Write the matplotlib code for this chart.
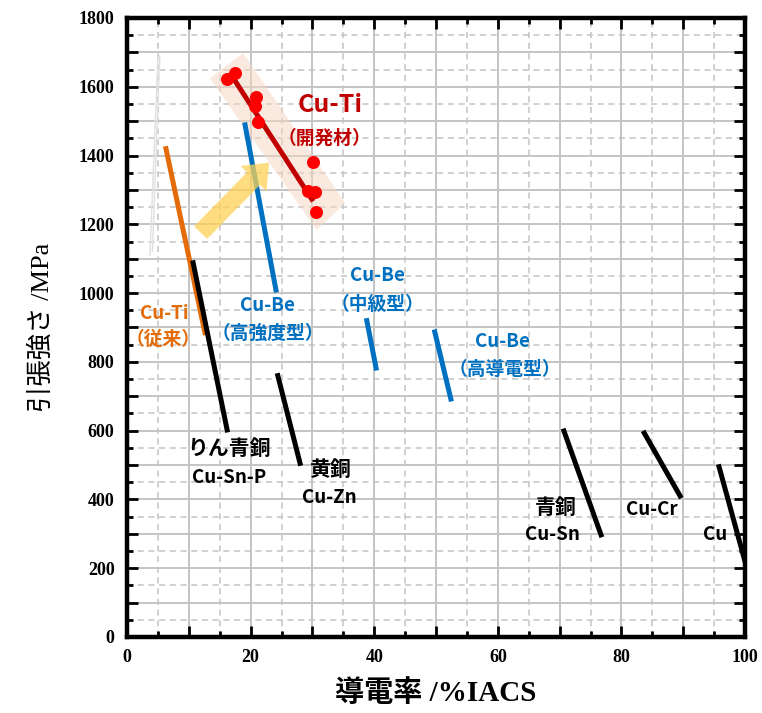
import numpy as np
import matplotlib.pyplot as plt
from matplotlib.ticker import MultipleLocator, FuncFormatter

plt.rcParams['font.family'] = ['Noto Sans CJK JP', 'DejaVu Sans']

# line segments: (conductivity %IACS, tensile strength MPa)
cuti_old_x = [6.3, 12.6]
cuti_old_y = [1420, 885]
cusnp_x = [10.7, 16.2]
cusnp_y = [1088, 602]
cuzn_x = [24.4, 28.0]
cuzn_y = [760, 505]
cube_hs_x = [19.1, 24.1]
cube_hs_y = [1489, 1009]
cube_mid_x = [38.8, 40.3]
cube_mid_y = [920, 782]
cube_hc_x = [49.8, 52.4]
cube_hc_y = [887, 692]
cusn_x = [70.7, 76.7]
cusn_y = [599, 297]
cucr_x = [83.7, 89.5]
cucr_y = [593, 410]
cu_x = [95.8, 100.3]
cu_y = [495, 200]
faint_x = [[5.0, 3.7], [5.3, 4.1]]
faint_y = [[1685, 1110], [1690, 1120]]

# developed Cu-Ti
new_pts_x = [16.2, 17.5, 20.9, 20.7, 21.2, 30.1, 29.3, 30.4, 30.6]
new_pts_y = [1622, 1641, 1570, 1544, 1498, 1381, 1297, 1295, 1236]
new_line_x = [17.2, 29.9]
new_line_y = [1625, 1273]
band_x = [13.4, 18.8, 35.3, 30.7]
band_y = [1625, 1698, 1262, 1183]

red = '#c00000'
orange = '#e36c09'
blue = '#0070c0'

fig = plt.figure(figsize=(7.62, 7.13), dpi=100)
ax = fig.add_axes([0.1667, 0.1066, 0.811, 0.8682])

ax.set_xlim(0, 100)
ax.set_ylim(0, 1800)

# grid
ax.xaxis.set_major_locator(MultipleLocator(10))
ax.xaxis.set_minor_locator(MultipleLocator(5))
ax.yaxis.set_major_locator(MultipleLocator(100))
ax.yaxis.set_minor_locator(MultipleLocator(50))
ax.grid(which='major', color='#c4c4c4', lw=1.4, ls='-', zorder=0)
ax.grid(which='minor', color='#c4c4c4', lw=1.1, ls=(0, (4, 3)), zorder=0)
ax.set_axisbelow(True)

ax.xaxis.set_major_formatter(FuncFormatter(lambda v, p: '%d' % v if v % 20 == 0 else ''))
ax.yaxis.set_major_formatter(FuncFormatter(lambda v, p: '%d' % v if v % 200 == 0 else ''))
ax.tick_params(which='both', direction='in', top=True, right=True, width=2, color='k')
ax.tick_params(which='major', length=8, pad=9)
ax.tick_params(which='minor', length=4)
for lab in ax.get_xticklabels() + ax.get_yticklabels():
    lab.set_family('Liberation Serif')
    lab.set_fontweight('bold')
    lab.set_fontsize(13)
for s in ax.spines.values():
    s.set_linewidth(3.2)

ax.set_xlabel('導電率 /%IACS', family=['Liberation Serif', 'Noto Sans CJK JP'],
              fontweight='bold', fontsize=21, labelpad=9)
ax.set_ylabel('引張強さ /MPa', family=['Liberation Serif', 'Noto Sans CJK JP'],
              fontweight='normal', fontsize=19, labelpad=18)

lw = 3.6
for fx, fy in zip(faint_x, faint_y):
    ax.plot(fx, fy, color='#e0e0e0', lw=1, zorder=2)

ax.fill(band_x, band_y, color='#f5d5c0', alpha=0.5, lw=0, zorder=2)

ax.plot(cuti_old_x, cuti_old_y, color=orange, lw=lw, zorder=3)
ax.plot(cusnp_x, cusnp_y, color='k', lw=lw, zorder=3)
ax.plot(cuzn_x, cuzn_y, color='k', lw=lw, zorder=3)
ax.plot(cube_hs_x, cube_hs_y, color=blue, lw=lw, zorder=3)
ax.plot(cube_mid_x, cube_mid_y, color=blue, lw=lw, zorder=3)
ax.plot(cube_hc_x, cube_hc_y, color=blue, lw=lw, zorder=3)
ax.plot(cusn_x, cusn_y, color='k', lw=lw, zorder=3)
ax.plot(cucr_x, cucr_y, color='k', lw=lw, zorder=3)
ax.plot(cu_x, cu_y, color='k', lw=lw, zorder=3, clip_on=True)

ax.annotate('', xy=(23.3, 1385), xytext=(11.6, 1170),
            arrowprops=dict(arrowstyle='simple,head_width=2.6,head_length=1.6,tail_width=1.3',
                            color='#fdd255', alpha=0.75, lw=0), zorder=4)

ax.plot(new_line_x, new_line_y, color=red, lw=lw, zorder=5)
ax.scatter(new_pts_x, new_pts_y, s=70, color='#ff0000', zorder=6)

tk = dict(ha='center', va='center', fontweight='bold', fontsize=13.5)
ax.text(32.8, 1547, 'Cu-Ti', color=red, **{**tk, 'fontsize': 18})
ax.text(32.0, 1451, '（開発材）', color=red, **tk)
ax.text(6.1, 942, 'Cu-Ti', color=orange, **tk)
ax.text(5.8, 864, '（従来）', color=orange, **tk)
ax.text(22.8, 965, 'Cu-Be', color=blue, **tk)
ax.text(22.8, 884, '（高強度型）', color=blue, **tk)
ax.text(40.6, 1050, 'Cu-Be', color=blue, **tk)
ax.text(40.6, 968, '（中級型）', color=blue, **tk)
ax.text(60.8, 858, 'Cu-Be', color=blue, **tk)
ax.text(61.2, 779, '（高導電型）', color=blue, **tk)
ax.text(16.5, 547, 'りん青銅', color='k', **{**tk, 'fontsize': 15})
ax.text(16.5, 465, 'Cu-Sn-P', color='k', **tk)
ax.text(32.8, 486, '黄銅', color='k', **{**tk, 'fontsize': 15})
ax.text(32.8, 407, 'Cu-Zn', color='k', **tk)
ax.text(69.3, 378, '青銅', color='k', **{**tk, 'fontsize': 15})
ax.text(68.9, 297, 'Cu-Sn', color='k', **tk)
ax.text(85.0, 372, 'Cu-Cr', color='k', **tk)
ax.text(95.1, 297, 'Cu', color='k', **tk)

plt.savefig('out.png', dpi=100)
